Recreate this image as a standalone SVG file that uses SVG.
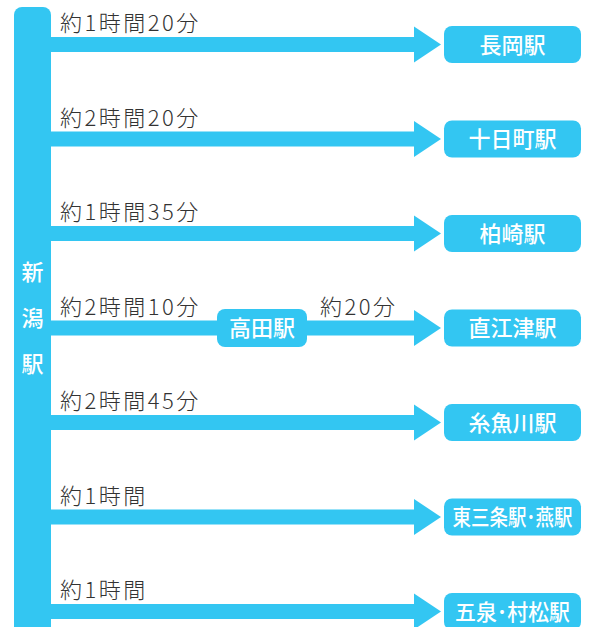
<svg xmlns="http://www.w3.org/2000/svg" width="591" height="627" viewBox="0 0 591 627">
<style>
.c{fill:#33c6f2}
.lbl{font-family:"Noto Sans CJK JP","Noto Sans",sans-serif;font-size:22px;fill:#333;letter-spacing:2.5px;font-weight:300}
.st{font-family:"Noto Sans CJK JP","Noto Sans",sans-serif;font-size:22px;fill:#fff;text-anchor:middle;font-weight:500}
</style>
<rect width="591" height="627" fill="#fff"/>
<g id="connectors">
<g class="c">
<rect x="50" y="37" width="366" height="15"/><polygon points="414,26.5 441,44.5 414,62.5"/>
<rect x="50" y="131.5" width="366" height="15"/><polygon points="414,121 441,139 414,157"/>
<rect x="50" y="226" width="366" height="15"/><polygon points="414,215.5 441,233.5 414,251.5"/>
<rect x="50" y="320.5" width="366" height="15"/><polygon points="414,310 441,328 414,346"/>
<rect x="50" y="415" width="366" height="15"/><polygon points="414,404.5 441,422.5 414,440.5"/>
<rect x="50" y="509.5" width="366" height="15"/><polygon points="414,499 441,517 414,535"/>
<rect x="50" y="604" width="366" height="15"/><polygon points="414,593.5 441,611.5 414,629.5"/>
</g>
<text class="lbl" x="60" y="31">約1時間20分</text>
<text class="lbl" x="60" y="125.5">約2時間20分</text>
<text class="lbl" x="60" y="220">約1時間35分</text>
<text class="lbl" x="60" y="314.5">約2時間10分</text>
<text class="lbl" x="320" y="314.5">約20分</text>
<text class="lbl" x="60" y="409">約2時間45分</text>
<text class="lbl" x="60" y="503.5">約1時間</text>
<text class="lbl" x="60" y="598">約1時間</text>
</g>
<g id="niigata">
<rect class="c" x="14" y="7" width="37" height="640" rx="8"/>
<text class="st" x="32.5" y="280">新</text>
<text class="st" x="32.5" y="326">潟</text>
<text class="st" x="32.5" y="372">駅</text>
</g>
<g id="nagaoka"><rect class="c" x="444" y="26" width="137" height="37" rx="8"/><text class="st" x="512.5" y="52.5">長岡駅</text></g>
<g id="tokamachi"><rect class="c" x="444" y="120.5" width="137" height="37" rx="8"/><text class="st" x="512.5" y="147">十日町駅</text></g>
<g id="kashiwazaki"><rect class="c" x="444" y="215" width="137" height="37" rx="8"/><text class="st" x="512.5" y="241.5">柏崎駅</text></g>
<g id="takada"><rect class="c" x="217" y="309" width="90" height="38" rx="8"/><text class="st" x="262" y="336">高田駅</text></g>
<g id="naoetsu"><rect class="c" x="444" y="309.5" width="137" height="37" rx="8"/><text class="st" x="512.5" y="336">直江津駅</text></g>
<g id="itoigawa"><rect class="c" x="444" y="404" width="137" height="37" rx="8"/><text class="st" x="512.5" y="430.5">糸魚川駅</text></g>
<g id="higashisanjo"><rect class="c" x="444" y="498.5" width="137" height="37" rx="8"/><text class="st" transform="translate(512.5 525) scale(0.84 1)" x="0" y="0">東三条駅･燕駅</text></g>
<g id="gosen"><rect class="c" x="444" y="593" width="137" height="37" rx="8"/><text class="st" transform="translate(512.5 619.5) scale(0.95 1)" x="0" y="0">五泉･村松駅</text></g>
</svg>
